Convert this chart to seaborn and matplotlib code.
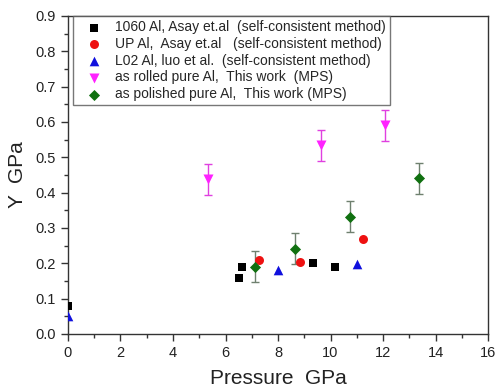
import matplotlib
matplotlib.use("Agg")

import numpy as np
import pandas as pd
import matplotlib.pyplot as plt
from matplotlib.ticker import MultipleLocator
import seaborn as sns

# --- data ---
al1060_p = [0.0, 6.51, 6.62, 9.35, 10.17]
al1060_y = [0.078, 0.159, 0.190, 0.200, 0.190]

up_p = [7.28, 8.84, 11.24]
up_y = [0.210, 0.205, 0.269]

l02_p = [0.0, 8.01, 11.02]
l02_y = [0.050, 0.181, 0.198]

rolled_p = [5.35, 9.62, 12.09]
rolled_y = [0.438, 0.534, 0.591]
rolled_err = [0.044, 0.044, 0.044]

polished_p = [7.14, 8.65, 10.74, 13.37]
polished_y = [0.190, 0.241, 0.332, 0.441]
polished_err = [0.044, 0.044, 0.044, 0.044]

labels = [
    "1060 Al, Asay et.al  (self-consistent method)",
    "UP Al,  Asay et.al   (self-consistent method)",
    "L02 Al, luo et al.  (self-consistent method)",
    "as rolled pure Al,  This work  (MPS)",
    "as polished pure Al,  This work (MPS)",
]

sns.set_style("ticks")
plt.rcParams["font.family"] = ["Liberation Sans", "DejaVu Sans"]

fig = plt.figure(figsize=(4.98, 3.90), dpi=100)
ax = fig.add_axes([0.1365, 0.1436, 0.8435, 0.8154])

# error bars first so markers sit on top
ax.errorbar(rolled_p, rolled_y, yerr=rolled_err, fmt="none", ecolor="#e040e0",
            elinewidth=1, capsize=3, capthick=1, zorder=1)
ax.errorbar(polished_p, polished_y, yerr=polished_err, fmt="none", ecolor="#6f806f",
            elinewidth=1, capsize=3, capthick=1, zorder=1)

series = [
    (al1060_p, al1060_y, "s", "black", 34),
    (up_p, up_y, "o", "#ee1111", 42),
    (l02_p, l02_y, "^", "#1010dd", 48),
    (rolled_p, rolled_y, "v", "#ff22ff", 52),
    (polished_p, polished_y, "D", "#107010", 32),
]
for (px, py, mk, col, sz), lab in zip(series, labels):
    df = pd.DataFrame({"p": px, "y": py})
    sns.scatterplot(data=df, x="p", y="y", marker=mk, color=col, s=sz,
                    edgecolor=col, linewidth=0, label=lab, ax=ax, zorder=3)

ax.set_xlim(0, 16)
ax.set_ylim(0, 0.9)
ax.xaxis.set_major_locator(MultipleLocator(2))
ax.xaxis.set_minor_locator(MultipleLocator(1))
ax.yaxis.set_major_locator(MultipleLocator(0.1))
ax.yaxis.set_minor_locator(MultipleLocator(0.05))
ax.yaxis.set_major_formatter(matplotlib.ticker.FormatStrFormatter("%.1f"))
ax.tick_params(which="major", direction="out", length=5, width=1, labelsize=10.5,
               color="#333333", labelcolor="#222222", pad=4)
ax.tick_params(which="minor", direction="out", length=3, width=1, color="#333333")
for sp in ax.spines.values():
    sp.set_color("#333333")
    sp.set_linewidth(1)

ax.set_xlabel("Pressure  GPa", fontsize=15, color="#222222", labelpad=6)
ax.set_ylabel("Y  GPa", fontsize=15, color="#222222", labelpad=6)

leg = ax.legend(loc="upper left", bbox_to_anchor=(0.012, 1.0), fontsize=10,
                frameon=True, fancybox=False, edgecolor="#555555",
                labelspacing=0.2, handletextpad=0.3, borderpad=0.3,
                borderaxespad=0.0, handlelength=2.4)
leg.get_frame().set_linewidth(1)

fig.savefig("out.png", dpi=100)
